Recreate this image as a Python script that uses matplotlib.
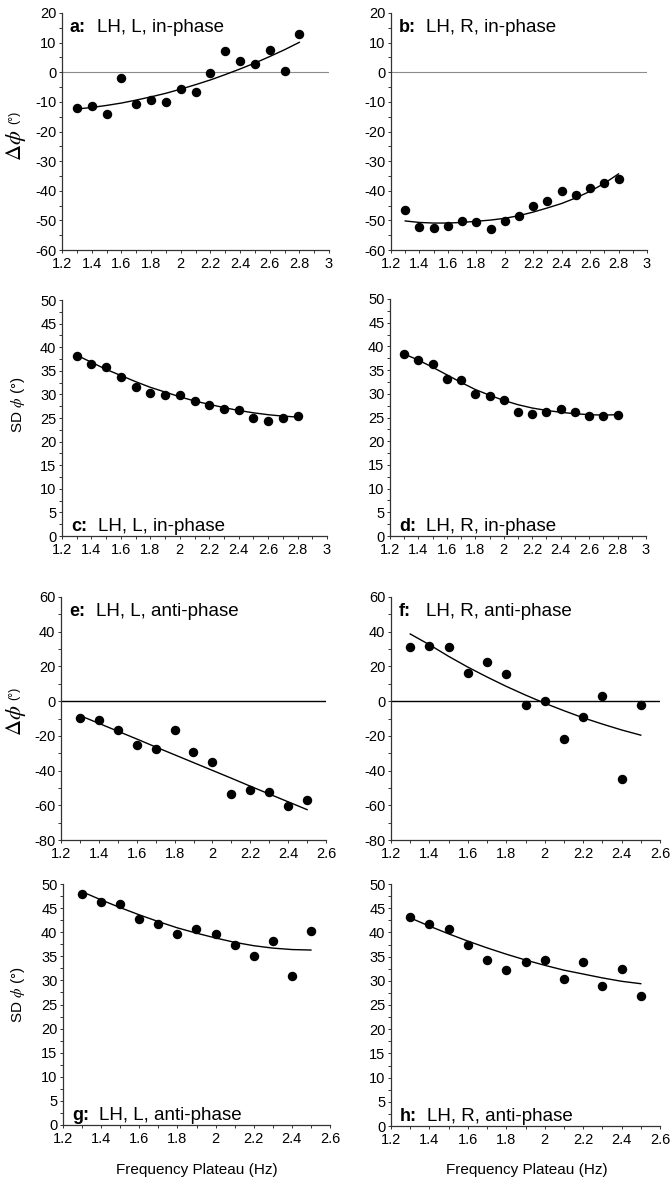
import matplotlib
matplotlib.use("Agg")
import matplotlib.pyplot as plt
from matplotlib.ticker import MultipleLocator, FuncFormatter
from matplotlib.transforms import offset_copy

plt.rcParams["font.family"] = ["Liberation Sans", "DejaVu Sans"]
plt.rcParams["mathtext.fontset"] = "stix"
plt.rcParams["axes.unicode_minus"] = False

# ---- data -------------------------------------------------------------
freq_in = [1.3, 1.4, 1.5, 1.6, 1.7, 1.8, 1.9, 2.0, 2.1, 2.2, 2.3, 2.4, 2.5, 2.6, 2.7, 2.8]
freq_anti = [1.3, 1.4, 1.5, 1.6, 1.7, 1.8, 1.9, 2.0, 2.1, 2.2, 2.3, 2.4, 2.5]

# in-phase, left limb: relative phase and its fitted trend
a_dphi = [-12.0, -11.3, -14.2, -2.1, -10.6, -9.3, -10.2, -5.5, -6.8, -0.2, 7.1, 3.9, 2.9, 7.5, 0.4, 12.9]
a_fit = [-12.4, -11.9, -11.2, -10.4, -9.4, -8.3, -7.1, -5.7, -4.2, -2.6, -0.8, 1.1, 3.1, 5.3, 7.6, 10.1]
# in-phase, right limb
b_dphi = [-46.5, -52.4, -52.6, -51.8, -50.3, -50.7, -52.8, -50.3, -48.4, -45.2, -43.3, -40.2, -41.6, -39.1, -37.4, -35.9]
b_fit = [-50.2, -50.7, -50.9, -50.9, -50.7, -50.3, -49.9, -49.3, -48.4, -47.2, -45.8, -44.3, -42.4, -40.2, -37.5, -34.3]
# in-phase SD, left / right
c_sd = [38.2, 36.4, 35.9, 33.6, 31.6, 30.4, 29.9, 29.9, 28.5, 27.8, 26.9, 26.8, 25.1, 24.4, 25.1, 25.5]
c_fit = [38.3, 36.8, 35.3, 34.0, 32.7, 31.5, 30.5, 29.5, 28.6, 27.9, 27.2, 26.6, 26.1, 25.7, 25.4, 25.2]
d_sd = [38.4, 37.2, 36.3, 33.1, 32.9, 30.0, 29.6, 28.7, 26.1, 25.7, 26.2, 26.8, 26.2, 25.4, 25.4, 25.6]
d_fit = [38.4, 37.1, 35.6, 34.0, 32.4, 30.9, 29.7, 28.6, 27.7, 27.0, 26.5, 26.1, 25.8, 25.6, 25.5, 25.6]
# anti-phase, left / right
e_dphi = [-9.8, -10.8, -16.9, -25.0, -27.5, -16.9, -29.4, -34.8, -53.5, -51.3, -52.5, -60.6, -56.9]
e_fit = [-8.3, -12.8, -17.3, -21.8, -26.4, -30.9, -35.4, -39.9, -44.4, -49.0, -53.5, -58.0, -62.5]
f_dphi = [31.2, 31.9, 31.2, 16.0, 22.5, 15.6, -2.3, 0.0, -21.9, -9.0, 3.1, -45.0, -2.3]
f_fit = [38.7, 32.5, 25.8, 19.6, 13.9, 8.5, 3.5, -1.2, -5.5, -9.6, -13.2, -16.6, -19.6]
# anti-phase SD, left / right
g_sd = [47.9, 46.3, 45.8, 42.8, 41.7, 39.6, 40.6, 39.6, 37.3, 35.0, 38.1, 31.0, 40.2]
g_fit = [48.4, 46.7, 45.1, 43.6, 42.2, 40.9, 39.8, 38.8, 37.9, 37.2, 36.7, 36.4, 36.3]
h_sd = [43.1, 41.7, 40.8, 37.3, 34.3, 32.2, 33.8, 34.3, 30.4, 33.8, 29.0, 32.4, 26.8]
h_fit = [43.0, 41.3, 39.7, 38.2, 36.8, 35.5, 34.3, 33.2, 32.2, 31.4, 30.6, 29.9, 29.4]

titles = {
    "a": "LH, L, in-phase", "b": "LH, R, in-phase",
    "c": "LH, L, in-phase", "d": "LH, R, in-phase",
    "e": "LH, L, anti-phase", "f": "LH, R, anti-phase",
    "g": "LH, L, anti-phase", "h": "LH, R, anti-phase",
}
xlabel_text = "Frequency Plateau (Hz)"

# ---- layout -----------------------------------------------------------
W, H = 670, 1182
fig = plt.figure(figsize=(W / 100, H / 100), dpi=100)


def rect(l, t, r, b):
    return [l / W, 1 - b / H, (r - l) / W, (b - t) / H]


panels = [
    # key, box (px), x, y, fit, xlim, ylim, ymajor, zero-line, label at top?
    ("a", rect(62, 13, 329, 250), freq_in, a_dphi, a_fit, (1.2, 3.0), (-60, 20), 10, "grey", True),
    ("b", rect(391, 13, 647, 250), freq_in, b_dphi, b_fit, (1.2, 3.0), (-60, 20), 10, "grey", True),
    ("c", rect(62, 300, 327, 536), freq_in, c_sd, c_fit, (1.2, 3.0), (0, 50), 5, None, False),
    ("d", rect(390, 299, 646, 536), freq_in, d_sd, d_fit, (1.2, 3.0), (0, 50), 5, None, False),
    ("e", rect(61, 597, 326, 840), freq_anti, e_dphi, e_fit, (1.2, 2.6), (-80, 60), 20, "black", True),
    ("f", rect(391, 597, 660, 840), freq_anti, f_dphi, f_fit, (1.2, 2.6), (-80, 60), 20, "black", True),
    ("g", rect(63, 884, 330, 1125), freq_anti, g_sd, g_fit, (1.2, 2.6), (0, 50), 5, None, False),
    ("h", rect(391, 884, 660, 1126), freq_anti, h_sd, h_fit, (1.2, 2.6), (0, 50), 5, None, False),
]

fmt = FuncFormatter(lambda v, p: f"{v:g}")
spine_col = "#333333"

for key, box, xs, ys, fit, xlim, ylim, ymaj, zero, top in panels:
    ax = fig.add_axes(box)
    ax.set_xlim(*xlim)
    ax.set_ylim(*ylim)
    for s in ("top", "right"):
        ax.spines[s].set_visible(False)
    for s in ("left", "bottom"):
        ax.spines[s].set_color(spine_col)
        ax.spines[s].set_linewidth(0.9)
    ax.xaxis.set_major_locator(MultipleLocator(0.2))
    ax.xaxis.set_minor_locator(MultipleLocator(0.1))
    ax.yaxis.set_major_locator(MultipleLocator(ymaj))
    ax.yaxis.set_minor_locator(MultipleLocator(ymaj / 2))
    ax.xaxis.set_major_formatter(fmt)
    ax.yaxis.set_major_formatter(fmt)
    ax.tick_params(which="both", direction="out", color=spine_col, width=0.7)
    ax.tick_params(which="major", length=2.5, labelsize=10.5)
    ax.tick_params(axis="x", which="major", pad=2.5)
    ax.tick_params(axis="y", which="major", pad=1.5)
    ax.tick_params(which="minor", length=2.0)

    if zero == "grey":
        ax.axhline(0, color="#8c8c8c", lw=0.8, zorder=1)
    elif zero == "black":
        ax.axhline(0, color="black", lw=1.0, zorder=1)

    ax.plot(xs, fit, "-", color="black", lw=1.0, zorder=2)
    ax.plot(xs, ys, "o", color="black", ms=5.8, zorder=3, clip_on=False)

    if top:
        tr1 = offset_copy(ax.transAxes, fig=fig, x=8, y=-14, units="dots")
        tr2 = offset_copy(ax.transAxes, fig=fig, x=35, y=-14, units="dots")
        ax.text(0, 1, f"{key}:", transform=tr1, fontsize=13, fontweight="bold", va="center", ha="left")
        ax.text(0, 1, titles[key], transform=tr2, fontsize=13.5, va="center", ha="left")
    else:
        tr1 = offset_copy(ax.transAxes, fig=fig, x=9, y=5, units="dots")
        tr2 = offset_copy(ax.transAxes, fig=fig, x=36, y=5, units="dots")
        ax.text(0, 0, f"{key}:", transform=tr1, fontsize=13, fontweight="bold", va="baseline", ha="left")
        ax.text(0, 0, titles[key], transform=tr2, fontsize=13.5, va="baseline", ha="left")

# y-axis labels of the left column
for y_big, y_small in ((145, 117), (720, 693)):
    fig.text(16 / W, 1 - y_big / H, r"$\mathit{\Delta}\phi$", rotation=90, fontsize=16, ha="center", va="center")
    fig.text(14 / W, 1 - y_small / H, "(°)", rotation=90, fontsize=9, ha="center", va="center")
for y_c in (405, 995):
    fig.text(18 / W, 1 - y_c / H, r"SD $\phi$ (°)", rotation=90, fontsize=11, ha="center", va="center")

# shared x-axis captions under the bottom row
for xc in (197, 527):
    fig.text(xc / W, 1 - 1170 / H, xlabel_text, fontsize=11, ha="center", va="center")

fig.savefig("out.png", dpi=100)
